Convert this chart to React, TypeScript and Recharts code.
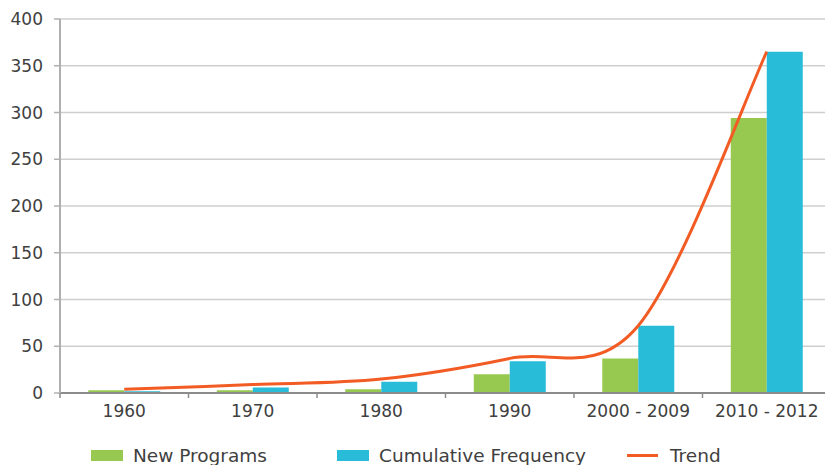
import React from 'react';
import { ComposedChart, Bar, Line, XAxis, YAxis, CartesianGrid, Legend } from 'recharts';

const categories = ['1960', '1970', '1980', '1990', '2000 - 2009', '2010 - 2012'];
const newPrograms = [3, 3, 4, 20, 37, 294];
const cumulativeFrequency = [2, 6, 12, 34, 72, 365];
const trend = [4, 9, 15, 37, 72, 365];
const yTicks = [0, 50, 100, 150, 200, 250, 300, 350, 400];

const GREEN = '#97c950';
const BLUE = '#29bcd8';
const ORANGE = '#f25c24';
const TEXT = '#404040';
const FONT = '"DejaVu Sans", sans-serif';

const data = categories.map((c, i) => ({
  category: c,
  newPrograms: newPrograms[i],
  cumulative: cumulativeFrequency[i],
  trend: trend[i],
}));

const CHART_W = 831;
const CHART_H = 465;
const Y_W = 60;
const BAND = (CHART_W - Y_W) / categories.length;

// Smoothed line (Catmull-Rom style Bezier, like a spreadsheet "smoothed line")
const smoothCurve = (context: any) => {
  let xs: number[] = [];
  let ys: number[] = [];
  return {
    areaStart() {},
    areaEnd() {},
    lineStart() {
      xs = [];
      ys = [];
    },
    point(x: number, y: number) {
      xs.push(+x);
      ys.push(+y);
    },
    lineEnd() {
      const n = xs.length;
      if (!n) return;
      context.moveTo(xs[0], ys[0]);
      if (n === 1) return;
      for (let i = 0; i < n - 1; i++) {
        const p0 = i > 0 ? i - 1 : i;
        const p3 = i + 2 < n ? i + 2 : i + 1;
        const c1x = xs[i] + (xs[i + 1] - xs[p0]) / 6;
        const c1y = ys[i] + (ys[i + 1] - ys[p0]) / 6;
        const c2x = xs[i + 1] - (xs[p3] - xs[i]) / 6;
        const c2y = ys[i + 1] - (ys[p3] - ys[i]) / 6;
        context.bezierCurveTo(c1x, c1y, c2x, c2y, xs[i + 1], ys[i + 1]);
      }
    },
  };
};

const XTick = (props: any) => {
  const { x, y, payload } = props;
  return (
    <g>
      <line x1={x - BAND / 2} x2={x - BAND / 2} y1={y - 12} y2={y - 7} stroke="#8c8c8c" strokeWidth={1.5} />
      <text x={x} y={y} dy="0.71em" textAnchor="middle" fill={TEXT} fontSize={17} fontFamily={FONT}>
        {payload.value}
      </text>
    </g>
  );
};

const legendItems = [
  { name: 'New Programs', color: GREEN, type: 'rect', width: 246 },
  { name: 'Cumulative Frequency', color: BLUE, type: 'rect', width: 290 },
  { name: 'Trend', color: ORANGE, type: 'line', width: 120 },
];

const LegendContent = () => (
  <div style={{ display: 'flex', height: 20, alignItems: 'center', paddingLeft: 91, fontFamily: FONT, fontSize: 18.5, color: TEXT }}>
    {legendItems.map((it) => (
      <div key={it.name} style={{ display: 'flex', alignItems: 'center', width: it.width, whiteSpace: 'nowrap' }}>
        {it.type === 'rect' ? (
          <span style={{ display: 'inline-block', width: 32, height: 11, background: it.color, marginRight: 10 }} />
        ) : (
          <span style={{ display: 'inline-block', width: 31, height: 3, background: it.color, marginRight: 12 }} />
        )}
        <span>{it.name}</span>
      </div>
    ))}
  </div>
);

export default function App() {
  return (
    <div style={{ position: 'absolute', left: 0, top: 0, width: 825, height: 465, overflow: 'hidden', background: '#fff' }}>
      <ComposedChart
        width={CHART_W}
        height={CHART_H}
        data={data}
        margin={{ top: 19, right: 0, bottom: 0, left: 0 }}
        barCategoryGap="22%"
        barGap={0}
      >
        <CartesianGrid vertical={false} stroke="#cfcfcf" strokeWidth={1.5} />
        <XAxis
          dataKey="category"
          height={52}
          tickLine={false}
          tickSize={6}
          tickMargin={6}
          axisLine={{ stroke: '#8c8c8c', strokeWidth: 2 }}
          tick={<XTick />}
          interval={0}
        />
        <YAxis
          width={Y_W}
          domain={[0, 400]}
          ticks={yTicks}
          tickSize={6}
          tickMargin={11}
          tickLine={{ stroke: '#b0b0b0', strokeWidth: 1.5 }}
          axisLine={{ stroke: '#b0b0b0', strokeWidth: 2 }}
          tick={{ fill: TEXT, fontSize: 17, fontFamily: FONT }}
          interval={0}
        />
        <Legend verticalAlign="bottom" align="left" content={<LegendContent />} wrapperStyle={{ left: 0, width: 825 }} />
        <Bar dataKey="newPrograms" name="New Programs" fill={GREEN} isAnimationActive={false} />
        <Bar dataKey="cumulative" name="Cumulative Frequency" fill={BLUE} isAnimationActive={false} />
        <Line dataKey="trend" name="Trend" type={smoothCurve as any} stroke={ORANGE} strokeWidth={3} dot={false} activeDot={false} isAnimationActive={false} />
      </ComposedChart>
    </div>
  );
}
